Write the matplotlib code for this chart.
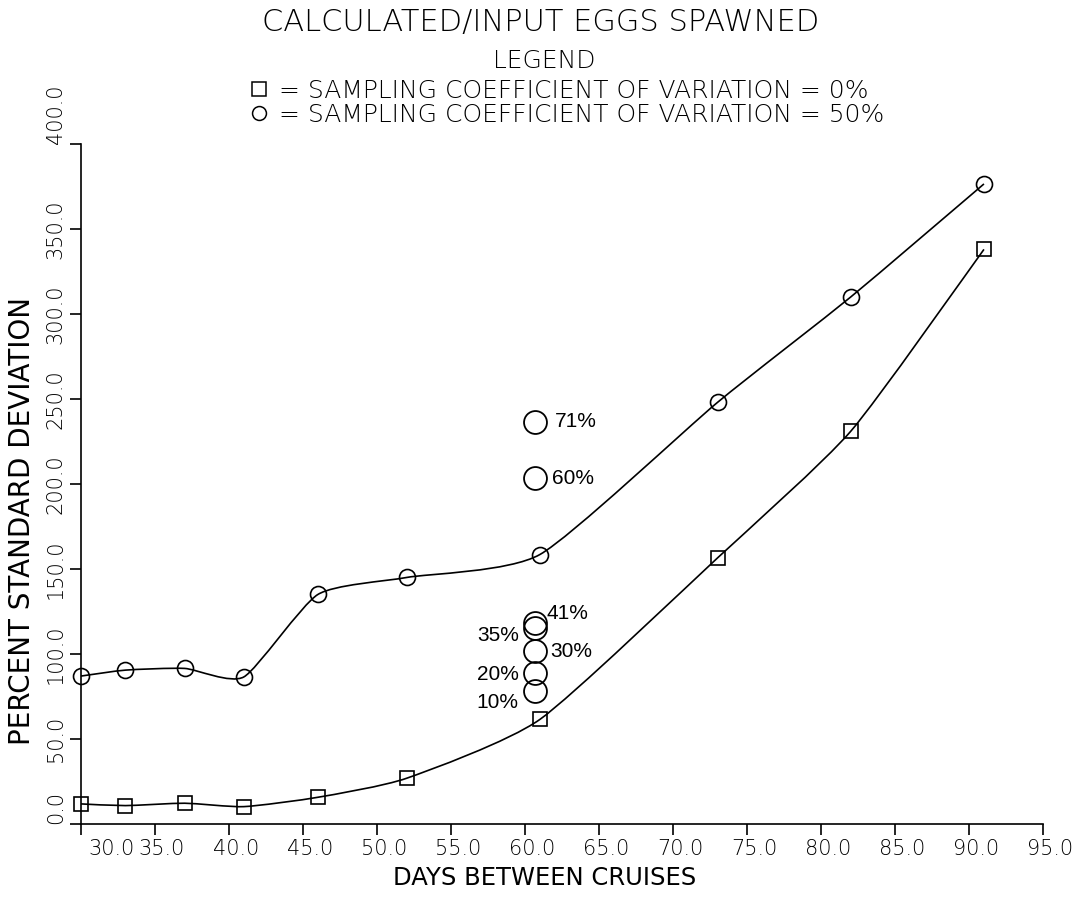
import numpy as np
import matplotlib
matplotlib.use("Agg")
import matplotlib.pyplot as plt
from matplotlib.path import Path
from matplotlib.patches import PathPatch
from matplotlib.lines import Line2D
from matplotlib.transforms import ScaledTranslation

###
### Data
###
days = [30, 33, 37, 41, 46, 52, 61, 73, 82, 91]
sd_cv0 = [11.8, 10.8, 12.2, 10.2, 15.7, 26.9, 61.5, 156.5, 231.0, 338.0]
sd_cv50 = [87.0, 90.5, 91.5, 86.5, 135.0, 145.0, 158.5, 248.0, 310.0, 376.5]

# single runs at 61 days for other sampling CVs
cv_day = 60.7
cv_labels = ["71%", "60%", "41%", "35%", "30%", "20%", "10%"]
cv_values = [236.5, 203.5, 118.0, 115.0, 102.0, 89.0, 78.0]
# label offsets (points) from each circle
cv_offsets = [(14, 0), (12, 0), (8, 7), (-12, -5), (11, -1), (-12, -1), (-12, -8)]

xticks = np.arange(30, 96, 5)
yticks = np.arange(0, 401, 50)

###
### Fonts
###
plt.rcParams['font.family'] = ['Liberation Sans Narrow', 'DejaVu Sans']
plt.rcParams['font.weight'] = 'light'
plt.rcParams['axes.linewidth'] = 1.2


def smooth_path(x, y, k=0.1):
    """Loose Catmull-Rom curve through the points, as Bezier segments."""
    pts = np.column_stack([x, y]).astype(float)
    n = len(pts)
    verts = [pts[0]]
    codes = [Path.MOVETO]
    for i in range(n - 1):
        p0 = pts[max(i - 1, 0)]
        p3 = pts[min(i + 2, n - 1)]
        verts += [pts[i] + (pts[i + 1] - p0) * k,
                  pts[i + 1] - (p3 - pts[i]) * k,
                  pts[i + 1]]
        codes += [Path.CURVE4] * 3
    return Path(verts, codes)


fig = plt.figure(figsize=(10.82, 9.01), dpi=100)
ax = fig.add_axes([0.0749, 0.0855, 0.8892, 0.7547])

for yy, mk, ms in [(sd_cv0, 's', 10.5), (sd_cv50, 'o', 11.5)]:
    ax.add_patch(PathPatch(smooth_path(days, yy), fill=False,
                           lw=1.2, ec='black', clip_on=False))
    ax.plot(days, yy, ls='none', marker=mk, ms=ms, mfc='none',
            mec='black', mew=1.2, clip_on=False)

ax.plot([cv_day] * len(cv_values), cv_values, ls='none', marker='o',
        ms=16.5, mfc='none', mec='black', mew=1.3)
for lab, val, (dx, dy) in zip(cv_labels, cv_values, cv_offsets):
    ax.annotate(lab, (cv_day, val), xytext=(dx, dy),
                textcoords='offset points',
                ha='left' if dx > 0 else 'right', va='center',
                fontsize=15, family='Liberation Sans', weight='normal')

ax.set_xlim(30, 95)
ax.set_ylim(0, 400)
for side in ['top', 'right']:
    ax.spines[side].set_visible(False)

ax.set_xticks(xticks)
ax.set_xticklabels([f"{v:.1f}" for v in xticks], fontsize=15)
ax.set_yticks(yticks)
ax.set_yticklabels([f"{v:.1f}" for v in yticks], fontsize=15,
                   rotation=90, va='center')
ax.tick_params(axis='both', direction='out', length=8, width=1.2, pad=3)

# shift tick labels a little to the right; first label clears the corner
shift = ScaledTranslation(5 / 72, 0, fig.dpi_scale_trans)
xlabs = ax.get_xticklabels()
for t in xlabs:
    t.set_transform(t.get_transform() + shift)
xlabs[0].set_horizontalalignment('left')
# end labels on the y axis start at their tick
ylabs = ax.get_yticklabels()
ylabs[0].set_verticalalignment('bottom')
ylabs[-1].set_verticalalignment('bottom')

ax.set_xlabel("DAYS BETWEEN CRUISES", fontsize=17.5)
ax.xaxis.set_label_coords(0.482, -0.062)
ax.set_ylabel("PERCENT STANDARD DEVIATION", fontsize=20)
ax.yaxis.set_label_coords(-0.047, 0.446)

fig.text(0.5, 0.975, "CALCULATED/INPUT EGGS SPAWNED", ha='center',
         va='center', fontsize=22)
fig.text(0.503, 0.932, "LEGEND", ha='center', va='center', fontsize=18)

handles = [
    Line2D([], [], ls='none', marker='s', ms=10, mfc='none', mec='black', mew=1.1),
    Line2D([], [], ls='none', marker='o', ms=10, mfc='none', mec='black', mew=1.1),
]
labels = ["= SAMPLING COEFFICIENT OF VARIATION = 0%",
          "= SAMPLING COEFFICIENT OF VARIATION = 50%"]
leg = fig.legend(handles, labels, loc='upper center',
                 bbox_to_anchor=(0.524, 0.926), frameon=False, fontsize=18,
                 handlelength=0.8, handletextpad=0.4,
                 labelspacing=0.0, borderpad=0.0)

fig.savefig("out.png", dpi=100)
